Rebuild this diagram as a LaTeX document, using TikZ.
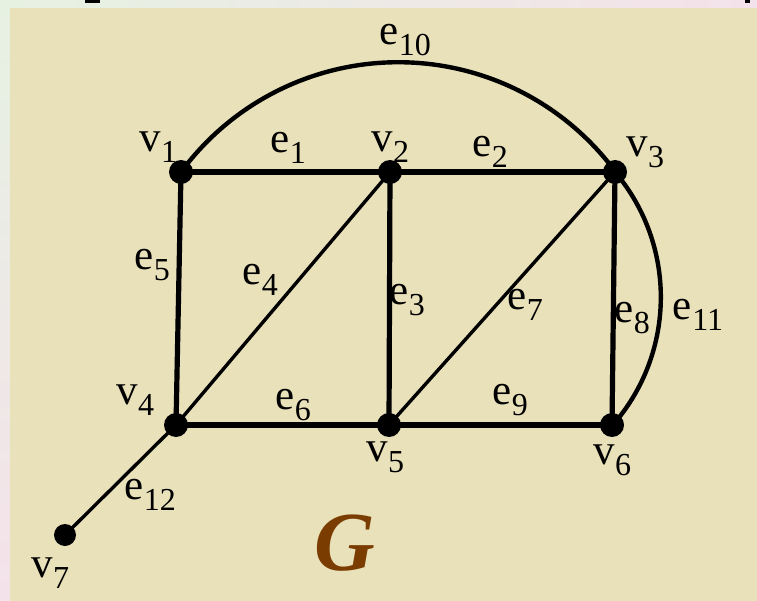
\documentclass[tikz,border=0pt]{standalone}
\usepackage{fontspec}
\setmainfont{Liberation Serif}
\definecolor{beige}{HTML}{E9E1BA}
\definecolor{gbrown}{HTML}{7A3C00}
\definecolor{palegreen}{HTML}{E6F1E2}
\definecolor{palepink}{HTML}{F4E2EA}
\newcommand{\lab}[2]{{\fontsize{43}{43}\selectfont #1}\kern0.5pt\raisebox{-11pt}{\fontsize{32}{32}\selectfont #2}}
\begin{document}
\begin{tikzpicture}[x=1pt,y=-1pt,
  vtx/.style={circle,fill=black,inner sep=0pt,minimum size=24pt},
  thick edge/.style={line width=5.2pt},
  thin edge/.style={line width=3.4pt},
  arc edge/.style={line width=4.4pt},
  lbl/.style={inner sep=0pt,anchor=center}]
\useasboundingbox (0,0) rectangle (757,601);
% background
\shade[left color=palegreen,right color=palepink] (0,0) rectangle (757,8);
\shade[top color=palegreen,bottom color=palepink] (0,0) rectangle (10,601);
\fill[beige] (10,8) rectangle (757,601);
\fill[black] (85,0) rectangle (100,3);
\fill[black] (745,0) rectangle (750,3);
% vertices
\node[vtx] (v1) at (181,172) {};
\node[vtx] (v2) at (390,172) {};
\node[vtx] (v3) at (615,172) {};
\node[vtx] (v4) at (176,425) {};
\node[vtx] (v5) at (389,425) {};
\node[vtx] (v6) at (612,425) {};
\node[vtx,minimum size=22pt] (v7) at (65,535) {};
% edges
\draw[thick edge] (v1.center) -- (v2.center);
\draw[thick edge] (v2.center) -- (v3.center);
\draw[thick edge] (v2.center) -- (v5.center);
\draw[thin edge] (v2.center) -- (v4.center);
\draw[thick edge] (v1.center) -- (v4.center);
\draw[thick edge] (v4.center) -- (v5.center);
\draw[thin edge] (v3.center) -- (v5.center);
\draw[thick edge] (v3.center) -- (v6.center);
\draw[thick edge] (v5.center) -- (v6.center);
\draw[thin edge] (v4.center) -- (v7.center);
\draw[arc edge] (v1.center) arc[start angle=-143.6, end angle=-36.4, radius=270];
\draw[arc edge] (v3.center) arc[start angle=-40.2, end angle=40.9, radius=194];
% vertex labels
\node[lbl] (l1) at (158,147) {\lab{v}{1}};
\node[lbl] (l2) at (390,147) {\lab{v}{2}};
\node[lbl] (l3) at (645,152) {\lab{v}{3}};
\node[lbl] (l4) at (135,400) {\lab{v}{4}};
\node[lbl] (l5) at (385,457) {\lab{v}{5}};
\node[lbl] (l6) at (612,460) {\lab{v}{6}};
\node[lbl] (l7) at (50,573) {\lab{v}{7}};
% edge labels
\node[lbl] (le1) at (288,148) {\lab{e}{1}};
\node[lbl] (le2) at (490,152) {\lab{e}{2}};
\node[lbl] (le3) at (407,300) {\lab{e}{3}};
\node[lbl] (le4) at (260,280) {\lab{e}{4}};
\node[lbl] (le5) at (152,265) {\lab{e}{5}};
\node[lbl] (le6) at (293,405) {\lab{e}{6}};
\node[lbl] (le7) at (525,305) {\lab{e}{7}};
\node[lbl] (le8) at (632,318) {\lab{e}{8}};
\node[lbl] (le9) at (510,400) {\lab{e}{9}};
\node[lbl] (le10) at (405,40) {\lab{e}{10}};
\node[lbl] (le11) at (698,315) {\lab{e}{11}};
\node[lbl] (le12) at (150,495) {\lab{e}{12}};
% graph name
\node[lbl,text=gbrown] (G) at (345,543) {\fontsize{84}{84}\selectfont\bfseries\itshape G};
\end{tikzpicture}
\end{document}
